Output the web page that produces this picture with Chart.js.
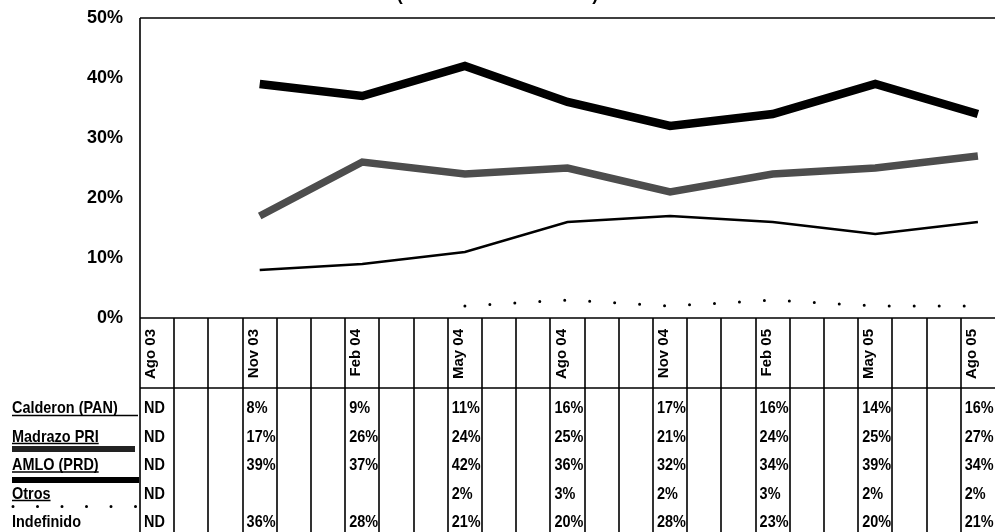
<!DOCTYPE html>
<html><head><meta charset="utf-8">
<script src="https://cdn.jsdelivr.net/npm/chart.js@4.4.1/dist/chart.umd.min.js"></script>
<style>
html,body{margin:0;padding:0;background:#fff;overflow:hidden;width:995px;height:532px;}
#wrap{position:relative;width:995px;height:532px;overflow:hidden;background:#fff;}
#c{position:absolute;left:0;top:-16px;}
</style></head><body>
<div id="wrap"><canvas id="c" width="995" height="548"></canvas></div>
<script>
const titleText = '(Total de entrevistados)';
const monthLabels = ['Ago 03','','','Nov 03','','','Feb 04','','','May 04','','','Ago 04','','','Nov 04','','','Feb 05','','','May 05','','','Ago 05'];
const surveyLabels = ['Ago 03','Nov 03','Feb 04','May 04','Ago 04','Nov 04','Feb 05','May 05','Ago 05'];
const seriesNames = ['Calderon (PAN)','Madrazo PRI','AMLO (PRD)','Otros','Indefinido'];
const calderon = [null,8,9,11,16,17,16,14,16];
const madrazo = [null,17,26,24,25,21,24,25,27];
const amlo = [null,39,37,42,36,32,34,39,34];
const otros = [null,null,null,2,3,2,3,2,2];
const indefinido = [null,36,28,21,20,28,23,20,21];
const noDataSurveys = ['Ago 03'];
const yTickValues = [0,10,20,30,40,50];

const tableSeries = [calderon, madrazo, amlo, otros, indefinido];
const WIDE = "'Liberation Sans',Arial,sans-serif";
const SQUEEZE = 0.85;

function toPoints(arr){
  const pts = [];
  arr.forEach((v,i)=>{ if(v!==null) pts.push({x: surveyLabels[i], y: v}); });
  return pts;
}

function narrowText(ctx, t, x, y){
  const w = ctx.measureText(t).width * SQUEEZE;
  ctx.fillText(t, x, y, w);
  return w;
}

const tablePlugin = {
  id: 'tablePlugin',
  afterDraw(chart){
    const {ctx, chartArea: ca, scales:{x}} = chart;
    const H = chart.height;
    const half = (x.getPixelForValue(1) - x.getPixelForValue(0))/2;
    ctx.save();
    ctx.strokeStyle = '#000';
    ctx.lineWidth = 1.6;
    ctx.beginPath();
    ctx.moveTo(ca.left, ca.top); ctx.lineTo(ca.right, ca.top);
    ctx.moveTo(ca.left, ca.bottom); ctx.lineTo(ca.right, ca.bottom);
    ctx.moveTo(ca.left, ca.top); ctx.lineTo(ca.left, H);
    ctx.moveTo(ca.left, x.bottom); ctx.lineTo(ca.right, x.bottom);
    for (let i=0;i<monthLabels.length-1;i++){
      const xx = Math.round(x.getPixelForValue(i)+half);
      ctx.moveTo(xx, ca.bottom); ctx.lineTo(xx, H);
    }
    ctx.stroke();

    const rowBase = (r)=> x.bottom + 25 + 28.5*r;
    ctx.font = "bold 17px " + WIDE;
    ctx.fillStyle = '#000';
    ctx.textAlign = 'left';
    ctx.textBaseline = 'alphabetic';
    seriesNames.forEach((name, r)=>{
      const b = rowBase(r);
      const tw = narrowText(ctx, name, 12, b);
      ctx.beginPath();
      if (r===0){
        ctx.lineWidth = 1.6; ctx.moveTo(12, b+2.5); ctx.lineTo(ca.left-2, b+2.5); ctx.stroke();
      } else if (r===1){
        ctx.lineWidth = 1.4; ctx.moveTo(12, b+2); ctx.lineTo(12+tw, b+2); ctx.stroke();
        ctx.beginPath(); ctx.lineWidth = 6; ctx.strokeStyle='#222'; ctx.moveTo(12, b+7.5); ctx.lineTo(135, b+7.5); ctx.stroke();
        ctx.strokeStyle='#000';
      } else if (r===2){
        ctx.lineWidth = 1.4; ctx.moveTo(12, b+2); ctx.lineTo(12+tw, b+2); ctx.stroke();
        ctx.beginPath(); ctx.lineWidth = 6; ctx.moveTo(12, b+10); ctx.lineTo(ca.left-1, b+10); ctx.stroke();
      } else if (r===3){
        ctx.lineWidth = 1.4; ctx.moveTo(12, b+2); ctx.lineTo(12+tw, b+2); ctx.stroke();
        ctx.beginPath(); ctx.lineWidth = 3; ctx.lineCap='round'; ctx.setLineDash([0,24.5]);
        ctx.moveTo(13, b+8); ctx.lineTo(136, b+8); ctx.stroke();
        ctx.setLineDash([]); ctx.lineCap='butt';
      }
    });

    surveyLabels.forEach((lab, j)=>{
      const idx = monthLabels.indexOf(lab);
      const left = x.getPixelForValue(idx) - half;
      tableSeries.forEach((arr, r)=>{
        let t = '';
        if (noDataSurveys.includes(lab)) t = 'ND';
        else if (arr[j] !== null) t = arr[j] + '%';
        if (t) narrowText(ctx, t, left + 4, rowBase(r));
      });
    });
    ctx.restore();
  }
};

new Chart(document.getElementById('c'), {
  type: 'line',
  data: {
    labels: monthLabels,
    datasets: [
      {label: seriesNames[0], data: toPoints(calderon), borderColor:'#000', borderWidth:2.5, pointRadius:0, tension:0},
      {label: seriesNames[1], data: toPoints(madrazo), borderColor:'#4d4d4d', borderWidth:7.5, pointRadius:0, tension:0},
      {label: seriesNames[2], data: toPoints(amlo), borderColor:'#000', borderWidth:8.5, pointRadius:0, tension:0},
      {label: seriesNames[3], data: toPoints(otros), borderColor:'#000', borderWidth:3, borderDash:[0,25], borderCapStyle:'round', pointRadius:0, tension:0}
    ]
  },
  options: {
    responsive: false,
    animation: false,
    devicePixelRatio: 1,
    layout: {padding: {top:0, left:0, right:0, bottom:144}},
    plugins: {
      legend: {display:false},
      tooltip: {enabled:false},
      title: {display:true, text:titleText, color:'#000', font:{family:WIDE, size:18, weight:'bold'}, padding:{top:0, bottom:12.4}}
    },
    scales: {
      x: {
        type:'category', offset:true,
        grid:{display:false, drawTicks:false},
        border:{display:false},
        ticks:{autoSkip:false, minRotation:90, maxRotation:90, padding:11, labelOffset:-6, color:'#000', font:{family:WIDE, size:15, weight:'bold'}},
        afterFit(s){ s.height = 70; s.paddingLeft = 0; s.paddingRight = 0; }
      },
      y: {
        min:0, max:50,
        afterBuildTicks(s){ s.ticks = yTickValues.map(v=>({value:v})); },
        grid:{display:false, drawTicks:false},
        border:{display:false},
        ticks:{padding:17, color:'#000', callback:v=>v+'%', font:{family:WIDE, size:18, weight:'bold'}},
        afterFit(s){ s.width = 140; s.paddingTop = 0; s.paddingBottom = 0; }
      }
    }
  },
  plugins:[tablePlugin]
});
</script>
</body></html>
